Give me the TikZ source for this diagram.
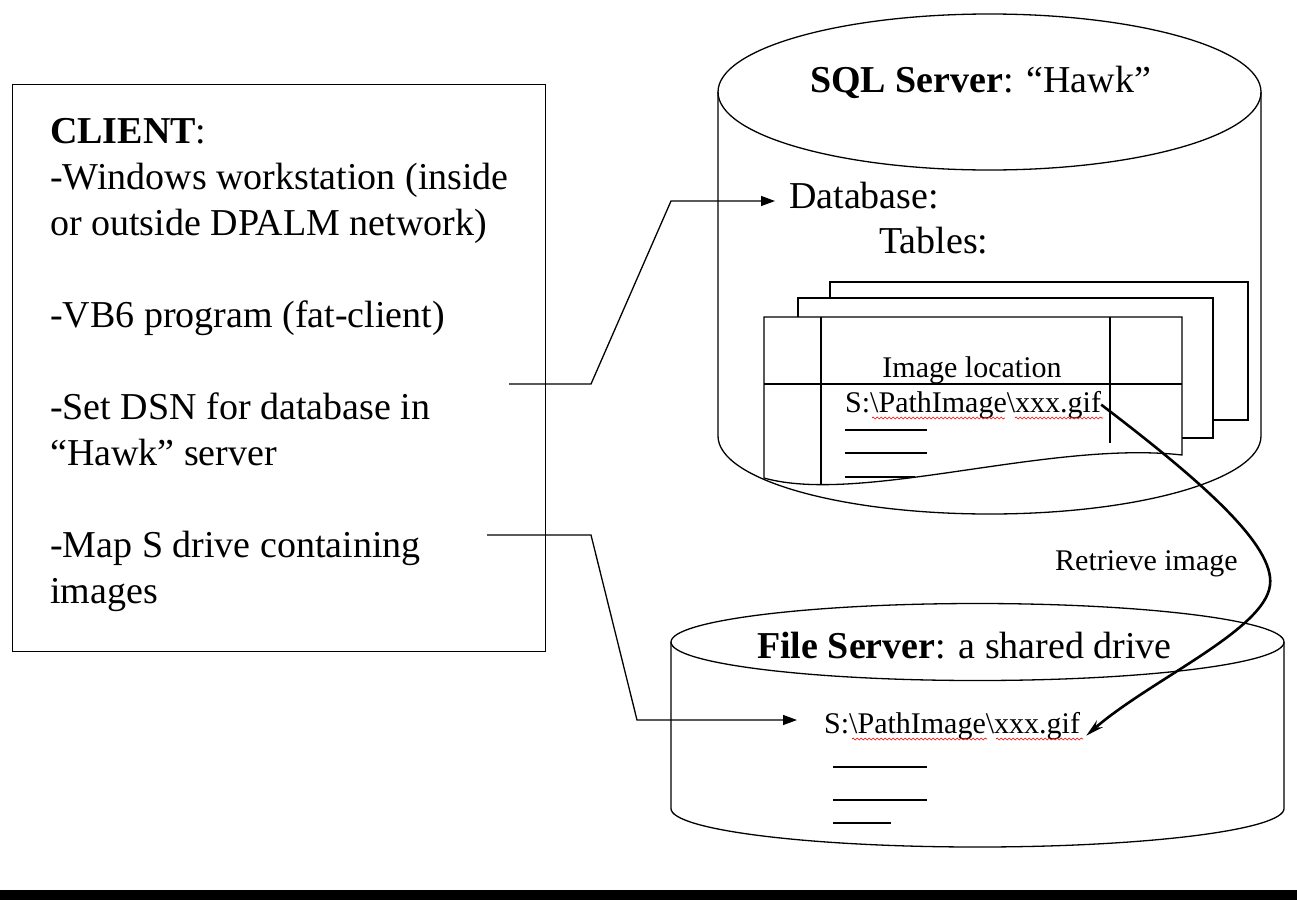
\documentclass[tikz,border=0pt]{standalone}
\usepackage{fontspec}
\setmainfont{Liberation Serif}
\usetikzlibrary{arrows.meta,decorations.pathmorphing}
\tikzset{
  big/.style={font=\fontsize{38}{46}\selectfont, inner sep=0pt},
  small/.style={font=\fontsize{30}{35}\selectfont, inner sep=0pt},
  outline/.style={line width=1.3pt},
  link/.style={line width=1.3pt, -{Triangle[length=14pt,width=10pt]}},
  fetch/.style={line width=2.6pt, -{Stealth[length=18pt,width=9pt]}},
  typo/.style={red, line width=0.6pt, decorate,
    decoration={snake, amplitude=1pt, segment length=4pt}}
}
\begin{document}
\begin{tikzpicture}[x=1pt,y=-1pt]
  \useasboundingbox (0,0) rectangle (1297,900);
  \node[draw, outline, anchor=north west, minimum width=533pt,
    minimum height=567pt] (clientbox) at (12,84) {};
  \node[big, anchor=north west, align=left] (client) at (50,118)
    {\textbf{CLIENT}:\\
     -Windows workstation (inside\\
     or outside DPALM network)\\[46pt]
     -VB6 program (fat-client)\\[46pt]
     -Set DSN for database in\\
     “Hawk” server\\[46pt]
     -Map S drive containing\\
     images};

  \draw[outline, fill=white] (718,92) -- (718,436)
    arc[start angle=180, end angle=360, x radius=271.5pt, y radius=78pt]
    -- (1261,92);
  \draw[outline] (989.5,92) ellipse [x radius=271.5pt, y radius=78pt];
  \node[big, anchor=base west] (sqltitle) at (810,92)
    {\textbf{SQL Server}: “Hawk”};
  \node[big, anchor=base west, inner xsep=14pt] (db) at (775,208) {Database:};
  \node[big, anchor=base west] (tables) at (879,253) {Tables:};

  \draw[outline, fill=white] (830,282) rectangle (1248,420);
  \draw[outline, fill=white] (798,298) rectangle (1213,438);
  \draw[outline, fill=white] (764,317) -- (1182,317) -- (1182,455)
    .. controls (1050,440) and (860,505) .. (764,478) -- cycle;
  \draw[outline] (764,384) -- (1182,384)
    (821,317) -- (821,484)
    (1110,317) -- (1110,443);
  \node[small, anchor=base] (imgloc) at (972,377) {Image location};
  \node[small, anchor=base west] (sqlgif) at (845,412)
    {S:\textbackslash PathImage\textbackslash xxx.gif};
  \draw[typo] (872,418) -- (1005,418);
  \draw[typo] (1015,418) -- (1103,418);
  \draw[outline] (845,430) -- (927,430)
    (845,453) -- (927,453)
    (845,477) -- (915,477);

  \draw[outline, fill=white] (671,642) -- (671,808.5)
    arc[start angle=180, end angle=360, x radius=306.5pt, y radius=38.5pt]
    -- (1284,642);
  \draw[outline] (977.5,642) ellipse [x radius=306.5pt, y radius=38.5pt];
  \node[big, anchor=base west] (fstitle) at (757,658)
    {\textbf{File Server}: a shared drive};
  \node[small, anchor=base west] (fsgif) at (824,733)
    {S:\textbackslash PathImage\textbackslash xxx.gif};
  \draw[typo] (852,739) -- (987,739);
  \draw[typo] (996,739) -- (1083,739);
  \draw[outline] (833,767) -- (927,767)
    (833,800) -- (927,800)
    (833,823) -- (891,823);

  \node[small, anchor=base west] (fetchlbl) at (1055,570) {Retrieve image};

  \coordinate (setdsn) at (509,384);
  \coordinate (mapdrive) at (487,535);
  \coordinate (dbbend) at (671,201);
  \coordinate (fsbend) at (637,720);
  \begin{scope}[link]
    \draw (setdsn) -- (591,384) -- (dbbend) -- (dbbend -| db.west);
    \draw (mapdrive) -- (591,535) -- (fsbend)
      -- ([xshift=-27pt]fsbend -| fsgif.west);
  \end{scope}
  \draw[fetch] (sqlgif.east) .. controls (1200,480) and (1275,545) .. (1270,585)
    .. controls (1265,630) and (1150,680) .. ([xshift=6pt,yshift=-10pt]fsgif.east);

  \fill (0,890) rectangle (1297,900);
\end{tikzpicture}
\end{document}
